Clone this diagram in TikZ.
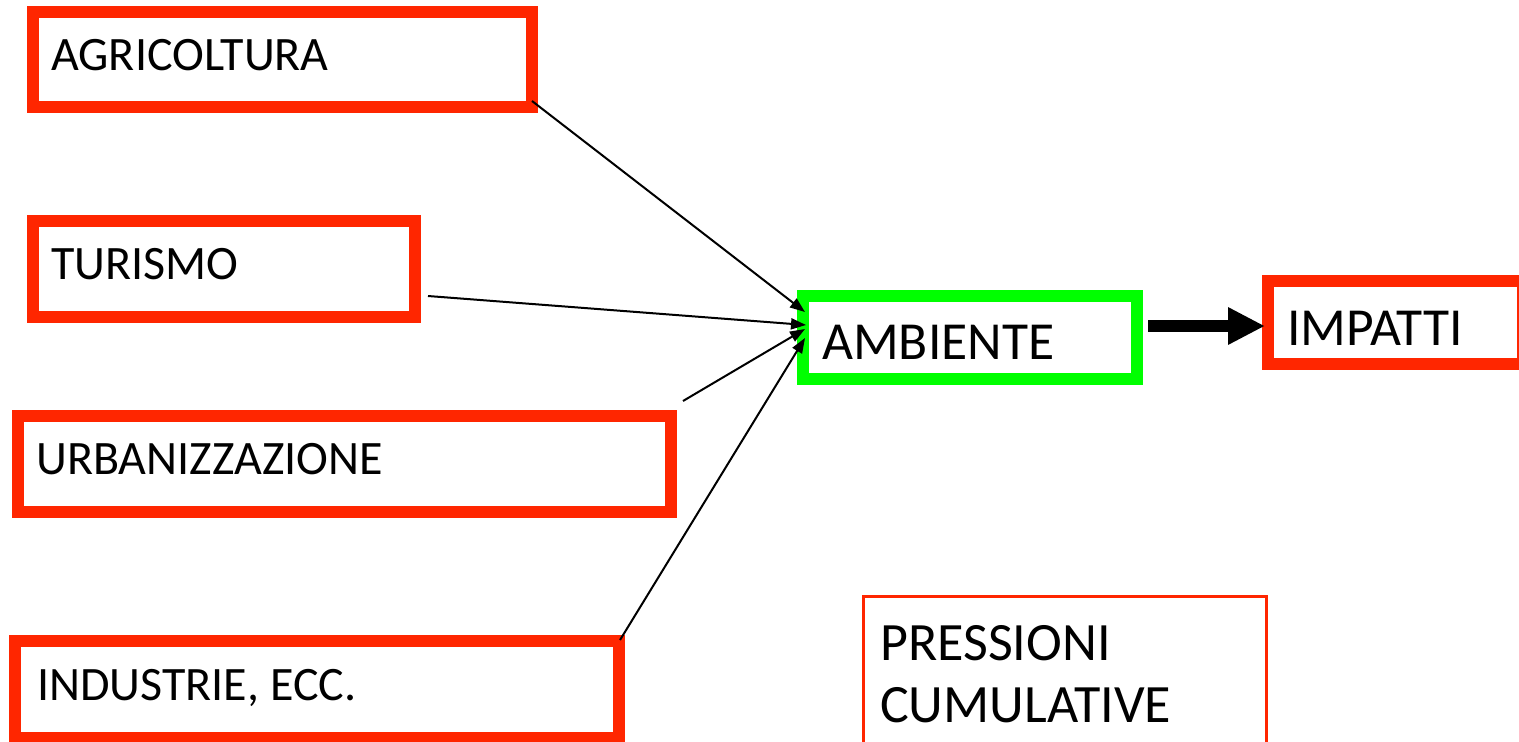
\documentclass[tikz,border=0pt]{standalone}
\usepackage{fontspec}
\setmainfont{Carlito}
\usetikzlibrary{arrows.meta,calc}
\definecolor{boxred}{RGB}{255,38,0}
\definecolor{boxgreen}{RGB}{0,255,0}
\begin{document}
\begin{tikzpicture}[x=1pt,y=-1pt,
  redbox/.style={draw=boxred,line width=12pt,rectangle,inner sep=0pt,fill=white},
  greenbox/.style={draw=boxgreen,line width=12pt,rectangle,inner sep=0pt,fill=white},
  thinbox/.style={draw=boxred,line width=2.5pt,rectangle,inner sep=0pt,fill=white},
  lbl/.style={anchor=base west,inner sep=0pt,font=\fontsize{48}{56}\selectfont},
  biglbl/.style={anchor=base west,inner sep=0pt,font=\fontsize{53.5}{60}\selectfont},
  thinarrow/.style={draw=black,line width=2pt,-{Triangle[length=15pt,width=11pt]}},
  thickarrow/.style={draw=black,line width=12pt,-{Triangle[length=37pt,width=35pt]}}
]
\useasboundingbox (0,0) rectangle (1519,742);
\clip (0,0) rectangle (1519,742);
\fill[white] (0,0) rectangle (1519,742);

% boxes
\node[redbox,minimum width=499pt,minimum height=95pt] (agri) at (282.5,59.5) {};
\node[redbox,minimum width=382pt,minimum height=96pt] (tur) at (224,269) {};
\node[redbox,minimum width=653pt,minimum height=96pt] (urb) at (344.5,464) {};
\node[redbox,minimum width=604pt,minimum height=97pt] (ind) at (317,689.5) {};
\node[greenbox,minimum width=334pt,minimum height=83pt] (amb) at (970,337.5) {};
\node[redbox,minimum width=255pt,minimum height=83pt] (imp) at (1395.5,322.5) {};
\node[thinbox,minimum width=403pt,minimum height=170pt] (press) at (1065,681.5) {};

% labels
\node[lbl] (agri-t) at (51,70) {AGRICOLTURA};
\node[lbl] (tur-t) at (51,279) {TURISMO};
\node[lbl] (urb-t) at (36,474) {URBANIZZAZIONE};
\node[lbl] (ind-t) at (37,700) {INDUSTRIE, ECC.};
\node[biglbl] (amb-t) at (822,359) {AMBIENTE};
\node[biglbl] (imp-t) at (1287,345) {IMPATTI};
\node[anchor=base west,inner sep=0pt,font=\fontsize{54}{62}\selectfont] (press-t) at (880,660)
  {\begin{tabular}[t]{@{}l@{}}PRESSIONI\\CUMULATIVE\end{tabular}};

% connectors
\draw[thinarrow] ([shift={(-6pt,12pt)}]agri.south east) -- ([shift={(8pt,25.5pt)}]amb.west);
\draw[thinarrow] ([shift={(7pt,-27pt)}]tur.east) -- ([shift={(9pt,12.5pt)}]amb.west);
\draw[thinarrow] ([shift={(6pt,9pt)}]urb.north east) -- ([shift={(8pt,8.5pt)}]amb.west);
\draw[thinarrow] ([shift={(-5pt,-5pt)}]ind.north east) -- ([shift={(8pt,-0.5pt)}]amb.west);
\draw[thickarrow] ([shift={(5pt,11.5pt)}]amb.east) -- ([shift={(3pt,-3.5pt)}]imp.west);
\end{tikzpicture}
\end{document}
